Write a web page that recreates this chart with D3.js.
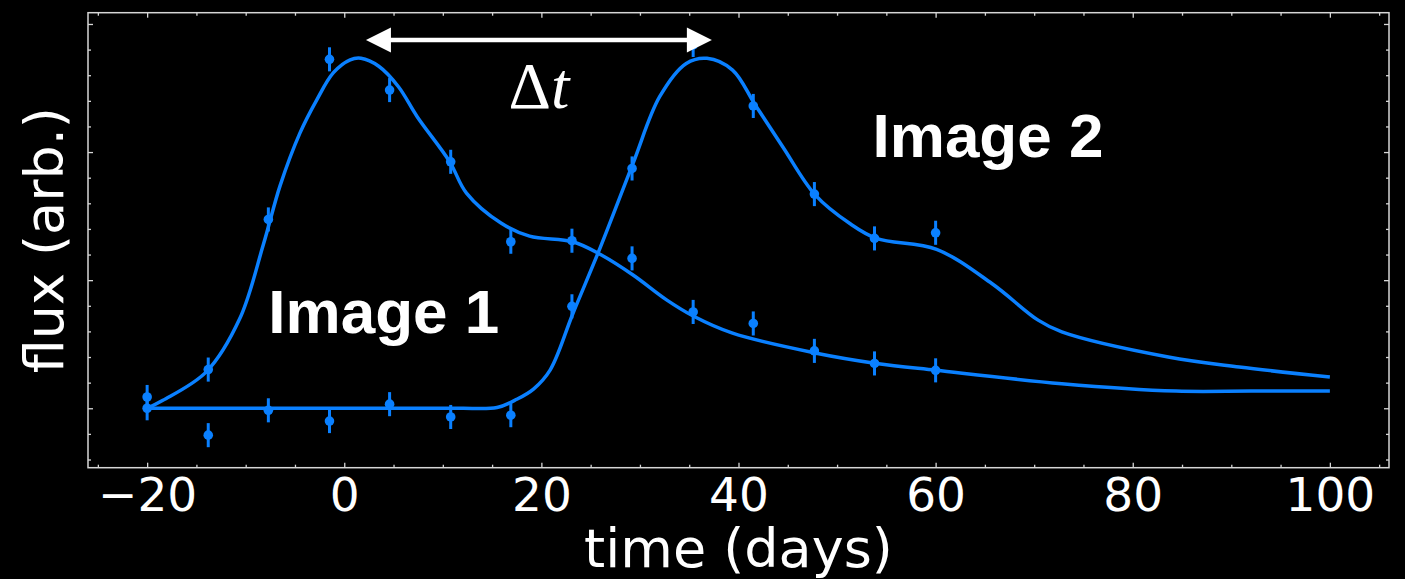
<!DOCTYPE html>
<html>
<head>
<meta charset="utf-8">
<script src="https://cdn.jsdelivr.net/npm/d3@7"></script>
<style>
  body { margin: 0; background: #000; }
  svg { display: block; }
</style>
</head>
<body>
<div id="chart"></div>
<script>

// observed epochs (days) and measured fluxes
const obsTimes   = [-20, -13.8, -7.7, -1.5, 4.6, 10.8, 16.9, 23.1, 29.2, 35.4, 41.5, 47.7, 53.8, 60];
const image1Flux = [0.044, 0.151, 0.737, 1.362, 1.242, 0.962, 0.650, 0.654, 0.585, 0.376, 0.331, 0.224, 0.175, 0.148];
const image2Flux = [0.0, -0.105, -0.008, -0.05, 0.016, -0.034, -0.027, 0.398, 0.936, 1.418, 1.18, 0.836, 0.663, 0.685];
const fluxErr    = [0.047, 0.047, 0.047, 0.047, 0.047, 0.047, 0.047, 0.047, 0.047, 0.047, 0.047, 0.047, 0.047, 0.047];

// model light curves
const curve1Times = [-20, -18.4, -14.0, -10.6, -8.2, -6.5, -4.5, -2.8, -1.1, 0.6, 1.7, 3.5, 5.5, 7.4, 10.7, 12.4, 15.9, 18.8, 23.2, 26.0, 29.3, 32.7, 35.4, 39.4, 47.9, 54.0, 60.1, 72.8, 84.4, 92, 100];
const curve1Flux  = [0, 0.031, 0.142, 0.35, 0.64, 0.87, 1.074, 1.203, 1.31, 1.36, 1.366, 1.335, 1.255, 1.138, 0.962, 0.84, 0.723, 0.672, 0.650, 0.60, 0.52, 0.423, 0.36, 0.293, 0.215, 0.175, 0.148, 0.096, 0.067, 0.067, 0.067];
const curve2Times = [-20, -10, 0, 10, 12, 15.5, 17.5, 19.2, 20.9, 23.2, 26.0, 29.3, 32.0, 34.7, 36.8, 39.4, 41.7, 44.5, 47.8, 51.3, 54.0, 60.1, 65.7, 70.4, 72.8, 83.6, 90.8, 100];
const curve2Flux  = [0, 0, 0, 0, 0, 0.003, 0.035, 0.075, 0.15, 0.37, 0.63, 0.956, 1.216, 1.346, 1.366, 1.32, 1.184, 1.02, 0.832, 0.721, 0.663, 0.62, 0.487, 0.344, 0.298, 0.2, 0.161, 0.122];

// ticks
const xMajor = [-20, 0, 20, 40, 60, 80, 100];
const xMinor = [-25, -15, -10, -5, 5, 10, 15, 25, 30, 35, 45, 50, 55, 65, 70, 75, 85, 90, 95, 105];
const yMajor = [0, 0.5, 1.0, 1.5];
const yMinor = [-0.2, -0.1, 0.1, 0.2, 0.3, 0.4, 0.6, 0.7, 0.8, 0.9, 1.1, 1.2, 1.3, 1.4];

// annotations (data coords)
const arrowTimes = [2.2, 37.3];
const arrowFlux = 1.4375;
const labels = [
  {text: "Image 1", t: -7.7, f: 0.294},
  {text: "Image 2", t: 53.6, f: 0.98}
];

const W = 1405, H = 579;
const margin = {top: 12.7, right: 16, bottom: 111.3, left: 88};
const blue = "#0a80ff";
const axisCol = "#d6d6d6";

var x = d3.scaleLinear().domain([-26, 106]).range([margin.left, W - margin.right]);
var y = d3.scaleLinear().domain([-0.232, 1.544]).range([H - margin.bottom, margin.top]);

var svg = d3.select("#chart").append("svg")
    .attr("width", W)
    .attr("height", H);

svg.append("rect")
    .attr("width", W).attr("height", H)
    .attr("fill", "#000");

// frame
svg.append("rect")
    .attr("x", x.range()[0])
    .attr("y", y.range()[1])
    .attr("width", x.range()[1] - x.range()[0])
    .attr("height", y.range()[0] - y.range()[1])
    .attr("fill", "none")
    .attr("stroke", axisCol)
    .attr("stroke-width", 1.5);

function tickAxis(axis, tr) {
  var g = svg.append("g").attr("transform", tr).call(axis);
  g.select(".domain").remove();
  g.selectAll(".tick line").attr("stroke", axisCol).attr("stroke-width", 1.3);
  return g;
}

var y0 = y.range()[0], y1 = y.range()[1], x0 = x.range()[0], x1 = x.range()[1];

// bottom
var bottom = tickAxis(d3.axisBottom(x).tickValues(xMajor).tickSizeInner(-5).tickSizeOuter(0)
    .tickPadding(10).tickFormat(d => d < 0 ? "\u2212" + Math.abs(d) : d), "translate(0," + y0 + ")");
bottom.selectAll("text")
    .attr("fill", "#fff")
    .attr("font-family", "DejaVu Sans")
    .attr("font-size", "47px");
tickAxis(d3.axisBottom(x).tickValues(xMinor).tickSize(-3).tickFormat(""), "translate(0," + y0 + ")");
// top
tickAxis(d3.axisTop(x).tickValues(xMajor).tickSize(-5).tickFormat(""), "translate(0," + y1 + ")");
tickAxis(d3.axisTop(x).tickValues(xMinor).tickSize(-3).tickFormat(""), "translate(0," + y1 + ")");
// left
tickAxis(d3.axisLeft(y).tickValues(yMajor).tickSize(-5).tickFormat(""), "translate(" + x0 + ",0)");
tickAxis(d3.axisLeft(y).tickValues(yMinor).tickSize(-3).tickFormat(""), "translate(" + x0 + ",0)");
// right
tickAxis(d3.axisRight(y).tickValues(yMajor).tickSize(-5).tickFormat(""), "translate(" + x1 + ",0)");
tickAxis(d3.axisRight(y).tickValues(yMinor).tickSize(-3).tickFormat(""), "translate(" + x1 + ",0)");

// axis titles
svg.append("text")
    .attr("x", (x0 + x1) / 2)
    .attr("y", 567)
    .attr("text-anchor", "middle")
    .attr("font-family", "DejaVu Sans")
    .attr("font-size", "54px")
    .attr("fill", "#fff")
    .text("time (days)");

svg.append("text")
    .attr("transform", "translate(63," + ((y0 + y1) / 2) + ") rotate(-90)")
    .attr("text-anchor", "middle")
    .attr("font-family", "DejaVu Sans")
    .attr("font-size", "54px")
    .attr("fill", "#fff")
    .text("flux (arb.)");

// model curves
var line = d3.line()
    .x(d => x(d[0]))
    .y(d => y(d[1]))
    .curve(d3.curveCatmullRom.alpha(0.5));

[d3.zip(curve1Times, curve1Flux), d3.zip(curve2Times, curve2Flux)].forEach(function(c) {
  svg.append("path")
      .datum(c)
      .attr("d", line)
      .attr("fill", "none")
      .attr("stroke", blue)
      .attr("stroke-width", 3.5);
});

// data points with error bars
[image1Flux, image2Flux].forEach(function(series) {
  var pts = obsTimes.map((t, i) => ({t: t, f: series[i], e: fluxErr[i]}));
  var g = svg.append("g");
  g.selectAll("line")
      .data(pts)
    .enter().append("line")
      .attr("x1", d => x(d.t)).attr("x2", d => x(d.t))
      .attr("y1", d => y(d.f - d.e)).attr("y2", d => y(d.f + d.e))
      .attr("stroke", blue)
      .attr("stroke-width", 3);
  g.selectAll("circle")
      .data(pts)
    .enter().append("circle")
      .attr("cx", d => x(d.t))
      .attr("cy", d => y(d.f))
      .attr("r", 4.8)
      .attr("fill", blue);
});

// delay arrow
var ax0 = x(arrowTimes[0]), ax1 = x(arrowTimes[1]), ay = y(arrowFlux);
svg.append("line")
    .attr("x1", ax0 + 20).attr("x2", ax1 - 20)
    .attr("y1", ay).attr("y2", ay)
    .attr("stroke", "#fff")
    .attr("stroke-width", 4.5);
svg.append("path")
    .attr("d", "M" + ax0 + "," + ay + "L" + (ax0 + 25) + "," + (ay - 12.5) + "L" + (ax0 + 25) + "," + (ay + 12.5) + "Z")
    .attr("fill", "#fff");
svg.append("path")
    .attr("d", "M" + ax1 + "," + ay + "L" + (ax1 - 25) + "," + (ay - 12.5) + "L" + (ax1 - 25) + "," + (ay + 12.5) + "Z")
    .attr("fill", "#fff");

var dt = svg.append("text")
    .attr("x", (ax0 + ax1) / 2)
    .attr("y", 108)
    .attr("text-anchor", "middle")
    .attr("font-family", "Liberation Serif")
    .attr("font-size", "66px")
    .attr("fill", "#fff");
dt.append("tspan").text("\u0394");
dt.append("tspan").attr("font-style", "italic").text("t");

// image labels
svg.selectAll(".imglabel")
    .data(labels)
  .enter().append("text")
    .attr("class", "imglabel")
    .attr("x", d => x(d.t))
    .attr("y", d => y(d.f))
    .attr("font-family", "Liberation Sans")
    .attr("font-weight", "bold")
    .attr("font-size", "62px")
    .attr("fill", "#fff")
    .text(d => d.text);

</script>
</body>
</html>
